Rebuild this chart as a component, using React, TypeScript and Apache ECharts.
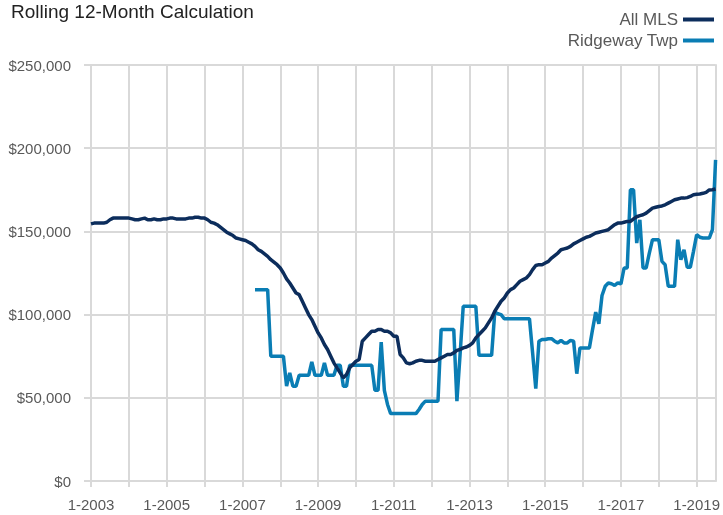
import React, { useEffect, useRef } from "react";
import * as echarts from "echarts";

// Monthly series, starting 1-2003 (index 0) through 7-2019 (index 198). Values in $ thousands.
const startYear = 2003;
const allMLS = [
  // 2003
  154.5, 155, 155, 155, 155, 155.5, 157, 158, 158, 158, 158, 158,
  // 2004
  158, 157.5, 157, 157, 157.5, 158, 157, 157, 157.5, 157, 157, 157.5,
  // 2005
  157.5, 158, 158, 157.5, 157.5, 157.5, 157.5, 158, 158, 158.5, 158.5, 158,
  // 2006
  158, 157, 155.5, 155, 154, 152.5, 151, 149.5, 148.5, 147.5, 146, 145.5,
  // 2007
  145, 144.5, 143.5, 142.5, 141, 139, 138, 136.5, 135, 133, 131.5, 130,
  // 2008
  128, 125, 121.5, 119, 116, 113, 112, 108, 104, 100, 97, 93,
  // 2009
  89, 86, 82, 79, 75, 71, 68, 65, 62, 64, 68, 70,
  // 2010
  72, 73, 84, 86, 88, 90, 90, 91, 91, 90, 90, 89,
  // 2011
  87, 87, 76, 74, 71, 70.5, 71, 72, 72.5, 72.5, 72, 72,
  // 2012
  72, 72, 73, 74, 75, 76, 76, 77, 78.5, 79, 80, 80.5,
  // 2013
  81.5, 83, 86, 88, 90, 92, 95, 98, 102, 105, 108, 110,
  // 2014
  113, 115, 116, 118, 120, 121, 122, 124, 127, 129.5, 130, 130,
  // 2015
  131, 132, 134, 135.5, 137, 139, 139.5, 140, 141, 142.5, 143.5, 144.5,
  // 2016
  145.5, 146.5, 147, 148, 149, 149.5, 150, 150.5, 151, 152.5, 154, 155,
  // 2017
  155, 155.5, 156, 156, 157.5, 158.8, 159.5, 160, 161, 162.5, 164, 164.5,
  // 2018
  165, 165.3, 166, 167, 168, 169, 169.5, 170, 170, 170.3, 171, 172,
  // 2019
  172.3, 172.5, 172.9, 173.5, 174.9, 175, 175.5,
];

// Ridgeway Twp begins at index 52 (5-2007)
const ridgewayFirstIndex = 52;
const ridgeway = [
  // 2007 (5..12)
  115, 115, 115, 115, 115, 75, 75, 75,
  // 2008
  75, 75, 57, 65, 57, 57, 63.5, 63.5, 63.5, 63.5, 71.5, 63.5,
  // 2009
  63.5, 63.5, 71, 63.5, 63.5, 63.5, 69.5, 69.5, 57, 57, 69.5, 69.5,
  // 2010
  69.5, 69.5, 69.5, 69.5, 69.5, 69.5, 54.5, 54.5, 83.5, 54.5, 46, 40.5,
  // 2011
  40.5, 40.5, 40.5, 40.5, 40.5, 40.5, 40.5, 40.5, 43, 46, 48, 48,
  // 2012
  48, 48, 48, 91, 91, 91, 91, 91, 48, 76, 105, 105,
  // 2013
  105, 105, 105, 75.5, 75.5, 75.5, 75.5, 75.5, 101.5, 100.5, 100, 97.5,
  // 2014
  97.5, 97.5, 97.5, 97.5, 97.5, 97.5, 97.5, 97.5, 77, 55.5, 84, 85,
  // 2015
  85, 85.5, 85.5, 84, 83, 84.5, 83, 83, 84.5, 84, 64.5, 80,
  // 2016
  80, 80, 80, 91, 101.5, 94.5, 111.5, 117, 119, 118.5, 117.5, 119,
  // 2017
  118.5, 128, 128, 175, 175, 143, 157, 128, 128, 137, 145, 145,
  // 2018
  145, 132, 130, 117, 117, 117, 145, 133, 139, 128.5, 128.5, 138,
  // 2019
  148, 146.5, 146, 146, 146, 151, 193,
];

const yTicks = [0, 50000, 100000, 150000, 200000, 250000];
const seriesNames = ["All MLS", "Ridgeway Twp"];
const colors = ["#0c2d5c", "#0a7db4"];

const months: string[] = allMLS.map(
  (_, i) => `${(i % 12) + 1}-${startYear + Math.floor(i / 12)}`
);

const FONT = "'Liberation Sans', Arial, sans-serif";
const GRID = "#d9d9d9";

export default function App() {
  const ref = useRef<HTMLDivElement>(null);
  useEffect(() => {
    if (!ref.current) return;
    const chart = echarts.init(ref.current, undefined, { renderer: "svg" });
    const allData = allMLS.map((v) => v * 1000);
    const ridgeData = months.map((_, i) => {
      const j = i - ridgewayFirstIndex;
      return j >= 0 && j < ridgeway.length ? ridgeway[j] * 1000 : null;
    });
    chart.setOption({
      animation: false,
      title: {
        text: "Rolling 12-Month Calculation",
        left: 6,
        top: 0,
        padding: [2, 5],
        textStyle: { fontFamily: FONT, fontSize: 19, fontWeight: "normal", color: "#222222" },
      },
      legend: {
        orient: "vertical",
        right: 4,
        top: 6,
        align: "right",
        icon: "rect",
        itemWidth: 31,
        itemHeight: 4,
        itemGap: 4,
        data: seriesNames,
        textStyle: { fontFamily: FONT, fontSize: 17, color: "#595959" },
      },
      grid: { left: 91, right: 5, top: 65, bottom: 34 },
      xAxis: {
        type: "category",
        data: months,
        boundaryGap: false,
        axisLine: { show: true, lineStyle: { color: GRID, width: 2 } },
        axisTick: {
          show: true,
          interval: (i: number) => i % 12 === 0,
          length: 6,
          lineStyle: { color: GRID, width: 2 },
        },
        axisLabel: {
          interval: (i: number) => i % 24 === 0,
          margin: 16,
          fontSize: 15,
          fontFamily: FONT,
          color: "#595959",
        },
        splitLine: {
          show: true,
          interval: (i: number) => i % 12 === 0,
          lineStyle: { color: GRID, width: 2 },
        },
      },
      yAxis: [
        {
          type: "value",
          min: yTicks[0],
          max: yTicks[yTicks.length - 1],
          interval: yTicks[1] - yTicks[0],
          axisLine: { show: false },
          axisTick: { show: true, length: 7, lineStyle: { color: GRID, width: 2 } },
          axisLabel: {
            margin: 20,
            fontSize: 15,
            fontFamily: FONT,
            color: "#595959",
            formatter: (v: number) => "$" + v.toLocaleString("en-US"),
          },
          splitLine: { show: true, lineStyle: { color: GRID, width: 2 } },
        },
        {
          type: "value",
          position: "right",
          min: yTicks[0],
          max: yTicks[yTicks.length - 1],
          interval: yTicks[1] - yTicks[0],
          axisLine: { show: true, lineStyle: { color: GRID, width: 2 } },
          axisTick: { show: false },
          axisLabel: { show: false },
          splitLine: { show: false },
        },
      ],
      series: [
        {
          name: seriesNames[0],
          type: "line",
          data: allData,
          showSymbol: false,
          symbol: "none",
          color: colors[0],
          lineStyle: { width: 3.5, color: colors[0] },
          z: 3,
        },
        {
          name: seriesNames[1],
          type: "line",
          data: ridgeData,
          showSymbol: false,
          symbol: "none",
          connectNulls: false,
          color: colors[1],
          lineStyle: { width: 3.5, color: colors[1] },
          z: 2,
        },
      ],
    });
    return () => chart.dispose();
  }, []);
  return (
    <div
      ref={ref}
      style={{ position: "fixed", left: 0, top: 0, width: 723, height: 515 }}
    />
  );
}
